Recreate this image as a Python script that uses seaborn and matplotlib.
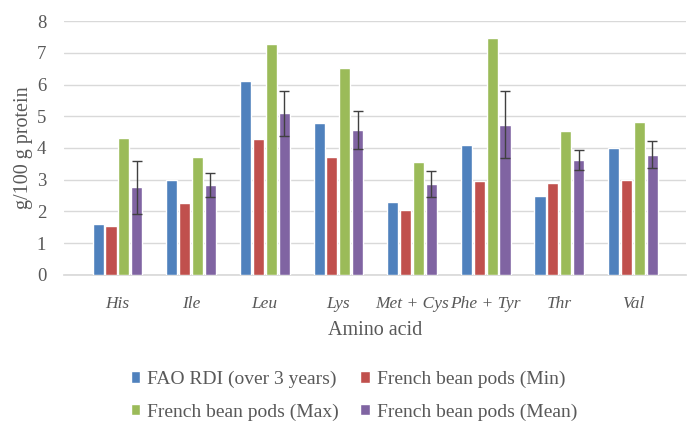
import matplotlib
matplotlib.use("Agg")
import matplotlib.pyplot as plt
import pandas as pd
import seaborn as sns

amino_acids = ["His", "Ile", "Leu", "Lys", "Met + Cys", "Phe + Tyr", "Thr", "Val"]
fao_rdi = [1.6, 3.0, 6.1, 4.8, 2.3, 4.1, 2.5, 4.0]
pods_min = [1.55, 2.27, 4.28, 3.73, 2.05, 2.97, 2.91, 2.98]
pods_max = [4.33, 3.71, 7.28, 6.53, 3.56, 7.46, 4.53, 4.83]
pods_mean = [2.76, 2.83, 5.1, 4.58, 2.87, 4.73, 3.62, 3.79]
mean_err = [0.83, 0.38, 0.71, 0.6, 0.41, 1.06, 0.32, 0.42]

series_names = [
    "FAO RDI (over 3 years)",
    "French bean pods (Min)",
    "French bean pods (Max)",
    "French bean pods (Mean)",
]
colors = ["#4F81BD", "#C0504D", "#9BBB59", "#8064A2"]

df = pd.DataFrame({
    "amino": amino_acids * 4,
    "series": [s for s in series_names for _ in amino_acids],
    "value": fao_rdi + pods_min + pods_max + pods_mean,
})

sns.set_theme(style="white")
plt.rcParams["font.family"] = ["Liberation Serif", "DejaVu Serif"]

fig = plt.figure(figsize=(6.91, 4.21), dpi=100)
ax = fig.add_axes([0.093, 0.347, 0.9, 0.603])

sns.barplot(
    data=df, x="amino", y="value", hue="series", hue_order=series_names,
    palette=colors, width=0.7, gap=0.14, errorbar=None, saturation=1,
    ax=ax, zorder=3,
)

# error bars on the mean series only
mean_bars = ax.containers[3]
xs = [b.get_x() + b.get_width() / 2 for b in mean_bars]
hs = [b.get_height() for b in mean_bars]
ax.errorbar(xs, hs, yerr=mean_err, fmt="none", ecolor="#404040",
            elinewidth=1, capsize=3.5, capthick=1, zorder=4)

ax.set_ylim(0, 8)
ax.set_yticks(range(0, 9))
ax.yaxis.grid(True, color="#D9D9D9", linewidth=1)
ax.set_axisbelow(True)
for side in ["top", "right", "left"]:
    ax.spines[side].set_visible(False)
ax.spines["bottom"].set_color("#D9D9D9")
ax.tick_params(axis="x", length=0, labelsize=12.5, colors="#595959", pad=15)
ax.tick_params(axis="y", length=0, labelsize=13.5, colors="#595959", pad=13)
for lbl in ax.get_xticklabels():
    lbl.set_fontstyle("italic")

ax.set_xlabel("Amino acid", fontsize=14.5, color="#595959", labelpad=7)
ax.set_ylabel("g/100 g protein", fontsize=14.5, color="#595959", labelpad=3)

# legend filled row by row: FAO, Min / Max, Mean
handles, labels = ax.get_legend_handles_labels()
order = [0, 2, 1, 3]
ax.legend([handles[i] for i in order], [labels[i] for i in order], ncol=2,
          loc="center", bbox_to_anchor=(0.512, 0.060),
          bbox_transform=fig.transFigure, frameon=False, fontsize=14,
          handlelength=0.5, handleheight=0.5, handletextpad=0.35,
          columnspacing=1.1, labelspacing=0.8, labelcolor="#595959",
          borderpad=0)

fig.savefig("out.png", dpi=100)
